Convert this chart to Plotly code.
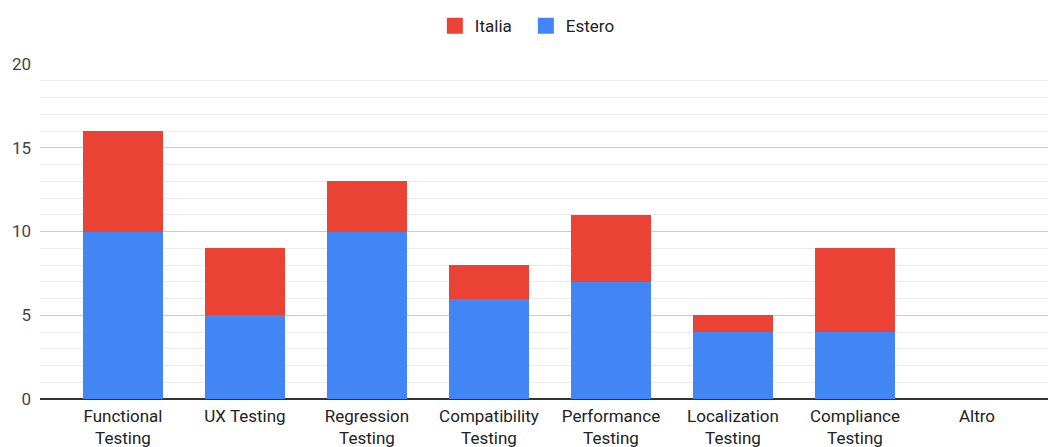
import plotly.graph_objects as go

categories = ["Functional Testing", "UX Testing", "Regression Testing", "Compatibility Testing",
              "Performance Testing", "Localization Testing", "Compliance Testing", "Altro"]
tick_labels = ["Functional<br>Testing", "UX Testing", "Regression<br>Testing", "Compatibility<br>Testing",
               "Performance<br>Testing", "Localization<br>Testing", "Compliance<br>Testing", "Altro"]
estero = [10, 5, 10, 6, 7, 4, 4, 0]
italia = [6, 4, 3, 2, 4, 1, 5, 0]

BLUE = "#4285F4"
RED = "#EA4335"
FONT = "Roboto, Arial, sans-serif"

x_idx = list(range(len(categories)))

fig = go.Figure()
fig.add_trace(go.Bar(x=x_idx, y=estero, name="Estero", marker=dict(color=BLUE, line=dict(width=0)),
                     width=0.656, customdata=categories, showlegend=False,
                     hovertemplate="%{customdata}<br>Estero: %{y}<extra></extra>"))
fig.add_trace(go.Bar(x=x_idx, y=italia, name="Italia", marker=dict(color=RED, line=dict(width=0)),
                     width=0.656, customdata=categories, showlegend=False,
                     hovertemplate="%{customdata}<br>Italia: %{y}<extra></extra>"))

# legend entries with larger square swatches
for name, color in [("Italia", RED), ("Estero", BLUE)]:
    fig.add_trace(go.Scatter(x=[None], y=[None], mode="markers", name=name,
                             marker=dict(symbol="square", size=17, color=color, line=dict(width=0)),
                             showlegend=True, hoverinfo="skip"))

fig.update_layout(
    barmode="stack",
    width=1048, height=447,
    margin=dict(l=40, r=0, t=64, b=48),
    paper_bgcolor="white", plot_bgcolor="white",
    font=dict(family=FONT, size=17, color="#444444"),
    showlegend=True,
    legend=dict(orientation="h", x=0.482, xanchor="center", y=1.113, yanchor="middle",
                traceorder="normal", font=dict(size=17, color="#222222"),
                itemwidth=30, itemsizing="trace", entrywidth=46),
    xaxis=dict(range=[-0.680, 7.582], tickmode="array", tickvals=x_idx, ticktext=tick_labels,
               showgrid=False, showline=False, zeroline=False, ticks="", ticklabelstandoff=5,
               tickfont=dict(size=17, color="#222222")),
    yaxis=dict(range=[0, 20], dtick=5, tick0=0, showgrid=True, gridcolor="#cccccc", gridwidth=1,
               zeroline=True, zerolinecolor="#333333", zerolinewidth=1.5,
               showline=False, ticks="", ticklabelstandoff=8,
               tickfont=dict(size=17, color="#444444"),
               minor=dict(dtick=1, showgrid=True, gridcolor="#ebebeb", gridwidth=1)),
)

fig.write_html("out.html")
